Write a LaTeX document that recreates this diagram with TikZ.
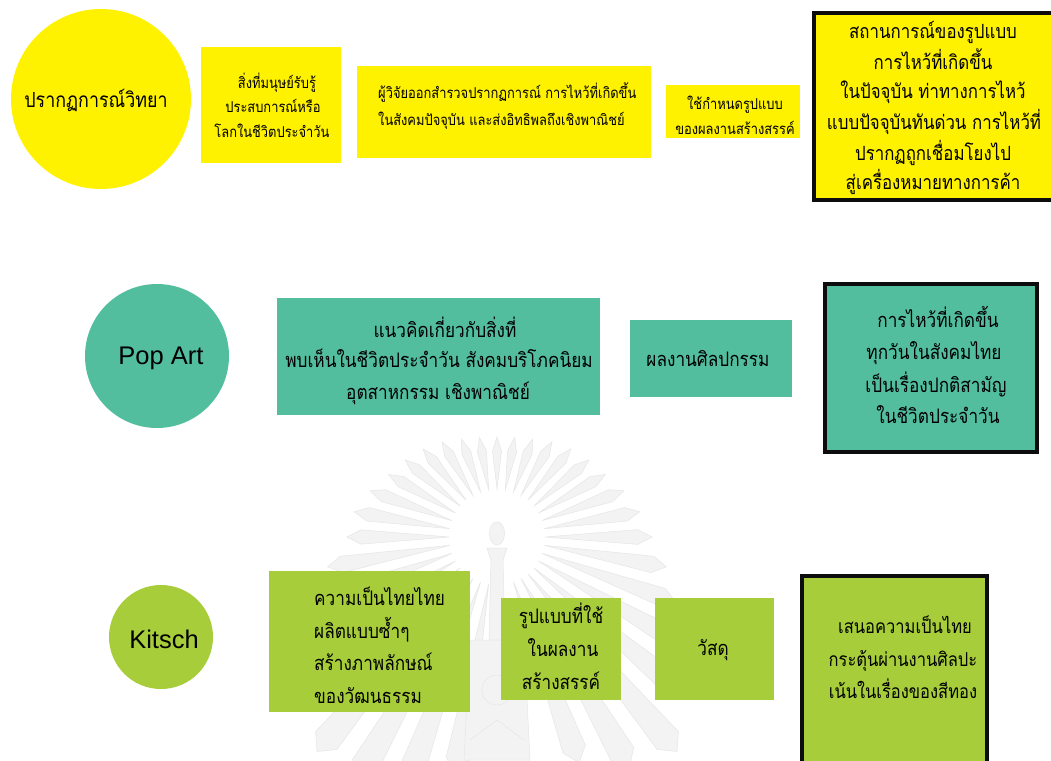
\documentclass[tikz,border=0pt]{standalone}
\usepackage{fontspec}
\newfontfamily\thaifont[Script=Thai,FakeStretch=0.86]{Loma}
\newfontfamily\latinfont{Liberation Sans}
\definecolor{ylw}{HTML}{FFF200}
\definecolor{teal1}{HTML}{52BE9E}
\definecolor{grn}{HTML}{A7CE3A}
\definecolor{wm}{HTML}{F3F3F3}
\definecolor{wmd}{HTML}{E6E6E6}
\tikzset{
 shp/.style={inner sep=0pt,outer sep=0pt,draw=none},
 txt/.style={inner sep=0pt,text=black,anchor=center,text height=16pt,text depth=0pt},
 txl/.style={txt,anchor=west},
 fbig/.style={font=\thaifont\fontsize{20}{22}\selectfont},
 fmid/.style={font=\thaifont\fontsize{19.6}{22}\selectfont},
 flow/.style={font=\thaifont\fontsize{19.2}{22}\selectfont},
 fsmall/.style={font=\thaifont\fontsize{15}{16}\selectfont,text height=11pt},
 flat/.style={font=\latinfont\fontsize{25.5}{27}\selectfont,text height=17pt},
 ray/.style={draw=wmd,fill=wm,line width=.5pt}
}
\newcommand{\rectplain}[6]{% name, x1,y1,x2,y2, colour
 \node[shp,rectangle,fill=#6,anchor=north west,minimum width={(#4-#2)*1pt},minimum height={(#5-#3)*1pt}] (#1) at (#2,#3) {};}
\newcommand{\rectbord}[6]{% name, x1,y1,x2,y2, colour
 \node[shp,rectangle,fill=#6,draw=black!95,line width=4.5pt,anchor=north west,minimum width={(#4-#2)*1pt},minimum height={(#5-#3)*1pt}] (#1) at (#2,#3) {};}
\begin{document}
\begin{tikzpicture}[x=1pt,y=-1pt]
\useasboundingbox (0,0) rectangle (1051,760);
\fill[white] (0,0) rectangle (1051,760);
% watermark
\foreach \a/\l in {-80/101,-70/104,-60/110,-50/115,-40/120,-30/125,-20/135,-10/145,0/155,10/172,20/190,30/215,40/245,50/280,60/265,70/240,
 100/240,110/265,120/280,130/280,140/245,150/215,160/190,170/172,180/150,190/145,200/135,210/125,220/120,230/115,240/110,250/104,260/101,270/100}{
 \draw[ray] ({497+48*cos(\a)},{537+48*sin(\a)})
   -- ({497+(\l-14)*cos(\a-3)},{537+(\l-14)*sin(\a-3)})
   -- ({497+\l*cos(\a)},{537+\l*sin(\a)})
   -- ({497+(\l-14)*cos(\a+3)},{537+(\l-14)*sin(\a+3)}) -- cycle;
}
\draw[ray] (497,522) .. controls (507,522) and (507,545) .. (497,545) .. controls (487,545) and (487,522) .. (497,522) -- cycle;
\draw[ray] (487,548) -- (507,548) -- (503,560) -- (505,640) -- (489,640) -- (491,560) -- cycle;
\draw[ray] (470,640) -- (524,640) -- (530,760) -- (464,760) -- cycle;
\draw[ray] (497,690) circle (15);
\draw[ray] (470,740) -- (497,720) -- (524,740);
% row 1
\node[shp,circle,fill=ylw,minimum size=180pt] (c1) at (101,99) {};
\rectplain{a1}{201}{47}{341}{163}{ylw}
\rectplain{a2}{357}{66}{651}{158}{ylw}
\rectplain{a3}{666}{85}{800}{138}{ylw}
\rectbord{a4}{814}{13}{1058}{200}{ylw}
\node[txt,font=\thaifont\fontsize{20.8}{22}\selectfont,text height=14pt] (tc1) at (96,100) {ปรากฏการณ์วิทยา};
\node[txt,fsmall] (ta11) at (277,83) {สิ่งที่มนุษย์รับรู้};
\node[txt,fsmall] (ta12) at (273,107) {ประสบการณ์หรือ};
\node[txt,fsmall] (ta13) at (272,132) {โลกในชีวิตประจำวัน};
\node[txl,fsmall] (ta21) at (378,93) {ผู้วิจัยออกสำรวจปรากฏการณ์ การไหว้ที่เกิดขึ้น};
\node[txl,fsmall] (ta22) at (378,120) {ในสังคมปัจจุบัน และส่งอิทธิพลถึงเชิงพาณิชย์};
\node[txt,fsmall] (ta31) at (735,104) {ใช้กำหนดรูปแบบ};
\node[txt,fsmall] (ta32) at (735,129) {ของผลงานสร้างสรรค์};
\node[txt,fmid] (ta41) at (933,31) {สถานการณ์ของรูปแบบ};
\node[txt,fmid] (ta42) at (933,61) {การไหว้ที่เกิดขึ้น};
\node[txt,fmid] (ta43) at (933,90) {ในปัจจุบัน ท่าทางการไหว้};
\node[txt,fmid] (ta44) at (934,121) {แบบปัจจุบันทันด่วน การไหว้ที่};
\node[txt,fmid] (ta45) at (933,152) {ปรากฏถูกเชื่อมโยงไป};
\node[txt,fmid] (ta46) at (933,181) {สู่เครื่องหมายทางการค้า};
% row 2
\node[shp,circle,fill=teal1,minimum size=144pt] (c2) at (157,356) {};
\rectplain{b1}{277}{298}{600}{415}{teal1}
\rectplain{b2}{630}{320}{792}{397}{teal1}
\rectbord{b3}{825}{284}{1037}{452}{teal1}
\node[txt,flat] (tc2) at (161,356) {Pop Art};
\node[txt,fbig] (tb11) at (445,329) {แนวคิดเกี่ยวกับสิ่งที่};
\node[txt,fbig] (tb12) at (439,359) {พบเห็นในชีวิตประจำวัน สังคมบริโภคนิยม};
\node[txt,fbig] (tb13) at (438,391) {อุตสาหกรรม เชิงพาณิชย์};
\node[txt,fbig] (tb21) at (708,358) {ผลงานศิลปกรรม};
\node[txt,fbig] (tb31) at (938,319) {การไหว้ที่เกิดขึ้น};
\node[txt,fbig] (tb32) at (934,351) {ทุกวันในสังคมไทย};
\node[txt,fbig] (tb33) at (936,384) {เป็นเรื่องปกติสามัญ};
\node[txt,fbig] (tb34) at (938,415) {ในชีวิตประจำวัน};
% row 3
\node[shp,circle,fill=grn,minimum size=104pt] (c3) at (161,637) {};
\rectplain{d1}{269}{571}{470}{712}{grn}
\rectplain{d2}{501}{598}{621}{700}{grn}
\rectplain{d3}{655}{598}{774}{700}{grn}
\rectbord{d4}{802}{576}{987}{770}{grn}
\node[txt,flat] (tc3) at (164,640) {Kitsch};
\node[txl,fbig] (td11) at (314,597) {ความเป็นไทยไทย};
\node[txl,fbig] (td12) at (314,630) {ผลิตแบบซ้ำๆ};
\node[txl,fbig] (td13) at (314,662) {สร้างภาพลักษณ์};
\node[txl,fbig] (td14) at (314,695) {ของวัฒนธรรม};
\node[txt,fbig] (td21) at (561,615) {รูปแบบที่ใช้};
\node[txt,fbig] (td22) at (563,648) {ในผลงาน};
\node[txt,fbig] (td23) at (561,681) {สร้างสรรค์};
\node[txt,fbig] (td31) at (713,647) {วัสดุ};
\node[txt,flow] (td41) at (905,625) {เสนอความเป็นไทย};
\node[txt,flow] (td42) at (903,658) {กระตุ้นผ่านงานศิลปะ};
\node[txt,flow] (td43) at (903,690) {เน้นในเรื่องของสีทอง};
\end{tikzpicture}
\end{document}
